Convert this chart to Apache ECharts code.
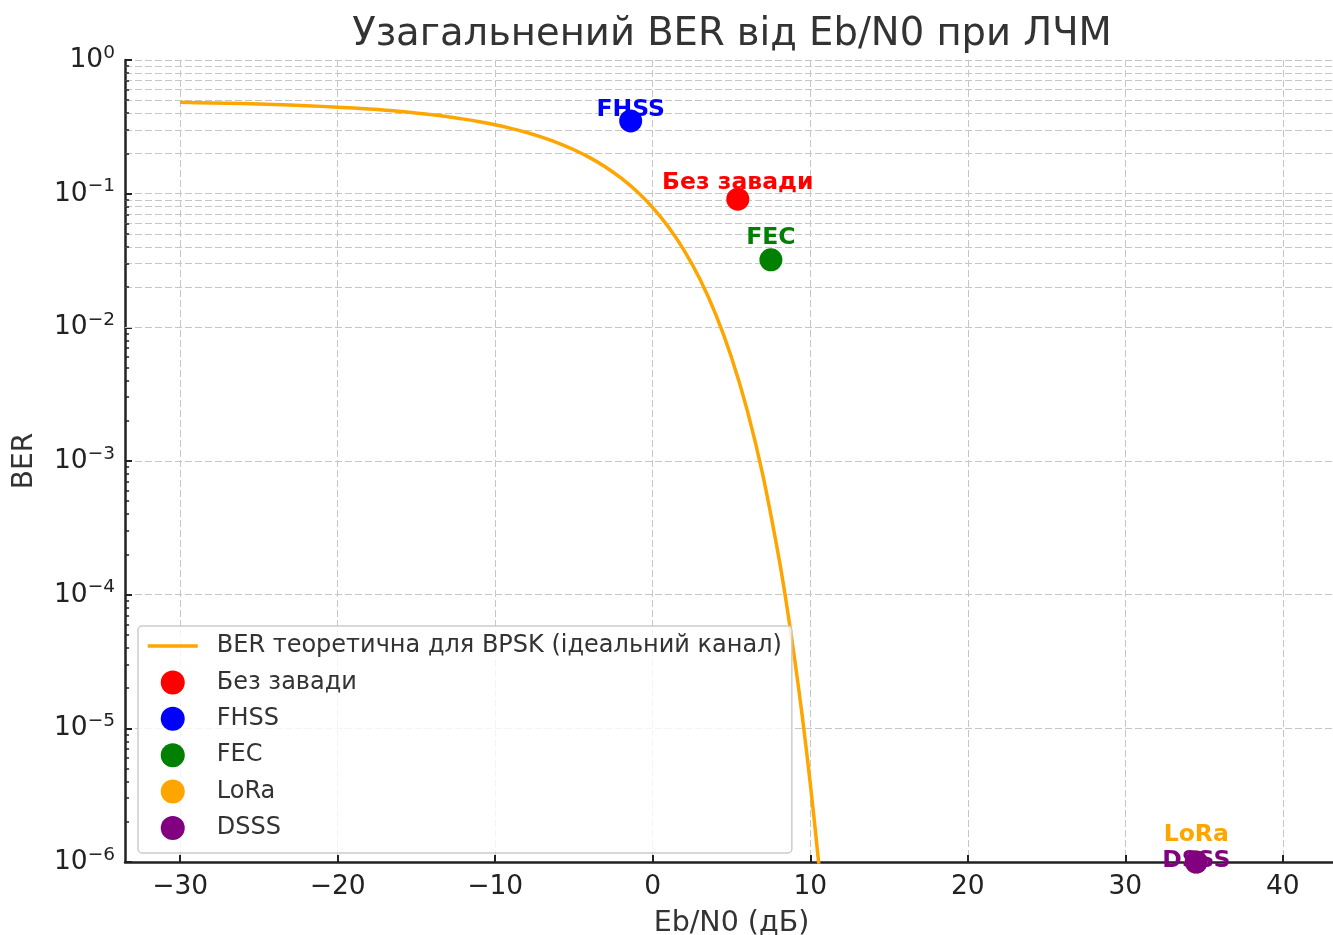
<!DOCTYPE html>
<html>
<head>
<meta charset="utf-8">
<script src="https://cdn.jsdelivr.net/npm/echarts@6/dist/echarts.min.js"></script>
<style>
    html, body { margin: 0; padding: 0; background: #fff; }
    #chart { width: 1333px; height: 935px; }
</style>
</head>
<body>
<div id="chart"></div>
<script>
// дані кривої BER (BPSK, ідеальний канал)
const curveEbN0 = [-30, -28, -26, -24, -22, -20, -18, -16, -14, -12, -11, -10, -9, -8, -7, -6, -5, -4, -3, -2, -1,
    0, 1, 2, 3, 4, 5, 6, 7, 8, 8.5, 9, 9.5, 10, 10.5, 11];
const curveBER = [0.4822, 0.4776, 0.4718, 0.4645, 0.4553, 0.4438, 0.4294, 0.4113, 0.3889, 0.3612, 0.3451, 0.3274,
    0.3079, 0.2867, 0.2638, 0.2392, 0.2132, 0.1861, 0.1584, 0.1306, 0.1038,
    0.0787, 0.0563, 0.0375, 0.0229, 0.0125, 0.00595, 0.00239, 0.000773, 0.000191, 0.000084, 0.0000336,
    0.0000121, 0.00000387, 0.00000108, 0.00000026];

// точки для різних схем
const schemeNames = ['Без завади', 'FHSS', 'FEC', 'LoRa', 'DSSS'];
const schemeEbN0 = [5.4, -1.4, 7.5, 34.5, 34.5];
const schemeBER = [0.091, 0.35, 0.032, 0.000001, 0.000001];

// підписи осей
const xTicks = [-30, -20, -10, 0, 10, 20, 30, 40];
const yMinorTicks = [];
for (let p = -6; p < 0; p++) {
    for (let m = 2; m <= 9; m++) {
        yMinorTicks.push(m * Math.pow(10, p));
    }
}

const curveName = 'BER теоретична для BPSK (ідеальний канал)';
const schemeColors = ['#ff0000', '#0000ff', '#008000', '#ffa500', '#800080'];
const labelLift = [-16, -11, -22, -27, -1];
const font = 'DejaVu Sans';
const xMin = -33.5, xMax = 43.5;

const dashed = { color: '#c6c6c6', width: 1, type: [7, 3] };

let myChart = echarts.init(document.getElementById('chart'));

let series = [
    {
        // допоміжна серія: мінорні лінії сітки і мінорні риски по осі Y
        name: 'minor',
        type: 'line',
        data: [],
        z: 1,
        markLine: {
            silent: true,
            symbol: 'none',
            animation: false,
            z: 1,
            label: { show: false },
            lineStyle: dashed,
            data: yMinorTicks.map(v => ({ yAxis: v })).concat(
                yMinorTicks.map(v => [
                    { coord: [xMin, v], lineStyle: { color: '#222', width: 1.5, type: 'solid' } },
                    { coord: [xMin + 0.26, v] }
                ])
            )
        }
    },
    {
        name: curveName,
        type: 'line',
        data: curveEbN0.map((x, i) => [x, curveBER[i]]),
        showSymbol: false,
        symbol: 'none',
        smooth: 0.3,
        clip: true,
        z: 2,
        lineStyle: { color: '#ffa500', width: 3.5 },
        itemStyle: { color: '#ffa500' }
    }
];

schemeNames.forEach((name, i) => {
    series.push({
        name: name,
        type: 'scatter',
        data: [[schemeEbN0[i], schemeBER[i]]],
        symbol: 'circle',
        symbolSize: 23,
        clip: false,
        z: 3,
        itemStyle: { color: schemeColors[i], opacity: 1 },
        label: {
            show: true,
            position: 'inside',
            offset: [0, labelLift[i]],
            formatter: name,
            color: schemeColors[i],
            fontWeight: 'bold',
            fontSize: 23.5,
            fontFamily: font
        }
    });
});

let option = {
    animation: false,
    backgroundColor: '#fff',
    title: {
        text: 'Узагальнений BER від Eb/N0 при ЛЧМ',
        left: 727,
        top: 10,
        textAlign: 'center',
        textStyle: { fontSize: 38.5, fontWeight: 'normal', color: '#333', fontFamily: font }
    },
    legend: {
        data: [{ name: curveName, itemStyle: { opacity: 0 }, lineStyle: { width: 3.5, color: '#ffa500' } }]
            .concat(schemeNames.map(n => ({ name: n, icon: 'circle' }))),
        orient: 'vertical',
        left: 138,
        top: 626,
        itemWidth: 50,
        itemHeight: 24,
        itemGap: 12.4,
        padding: [8, 10, 13, 8],
        selectedMode: false,
        backgroundColor: 'rgba(255,255,255,0.8)',
        borderColor: '#cccccc',
        borderWidth: 1.5,
        borderRadius: 4,
        z: 6,
        textStyle: { fontSize: 24, lineHeight: 24, color: '#333', fontFamily: font, padding: [0, 0, 0, 14] }
    },
    grid: {
        left: 125,
        top: 60,
        width: 1213,
        height: 802,
        containLabel: false,
        outerBoundsMode: 'none'
    },
    xAxis: {
        type: 'value',
        min: xMin,
        max: xMax,
        name: 'Eb/N0 (дБ)',
        nameLocation: 'middle',
        nameGap: 47,
        nameTextStyle: { fontSize: 28.5, color: '#333', fontFamily: font },
        axisLine: { onZero: false, lineStyle: { color: '#222', width: 2.5 } },
        axisTick: { customValues: xTicks, inside: true, length: 7, lineStyle: { color: '#222', width: 2 } },
        axisLabel: {
            customValues: xTicks,
            fontSize: 26.5,
            color: '#222',
            fontFamily: font,
            margin: 12,
            formatter: v => (v < 0 ? '−' + (-v) : String(v))
        },
        splitLine: { show: true, lineStyle: dashed }
    },
    yAxis: {
        type: 'log',
        logBase: 10,
        min: 0.000001,
        max: 1,
        splitNumber: 6,
        name: 'BER',
        nameLocation: 'middle',
        nameGap: 86,
        nameTextStyle: { fontSize: 28, color: '#333', fontFamily: font },
        axisLine: { show: true, onZero: false, lineStyle: { color: '#222', width: 2.5 } },
        axisTick: { show: true, inside: true, length: 7, lineStyle: { color: '#222', width: 2 } },
        axisLabel: {
            margin: 10,
            formatter: function (v) {
                let p = Math.round(Math.log10(v));
                return '{b|10}{s|' + (p < 0 ? '−' + (-p) : p) + '}';
            },
            rich: {
                b: { fontSize: 26.5, lineHeight: 33, color: '#222', fontFamily: font },
                s: { fontSize: 18.5, lineHeight: 18, verticalAlign: 'top', color: '#222', fontFamily: font }
            }
        },
        splitLine: { show: true, lineStyle: dashed }
    },
    series: series
};
myChart.setOption(option);
</script>
</body>
</html>
